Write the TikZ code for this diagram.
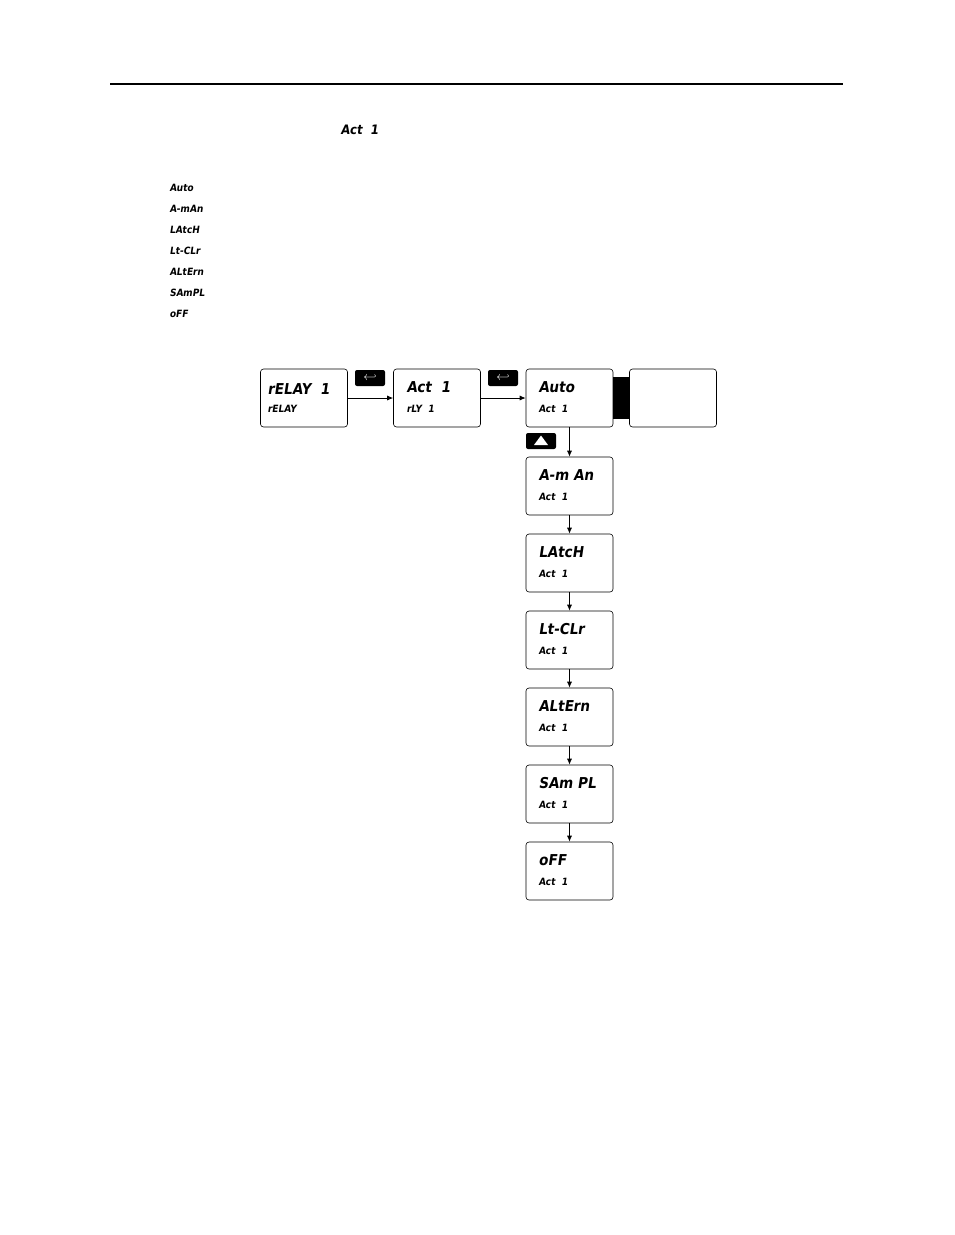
\documentclass[tikz,border=0pt]{standalone}
\usepackage{fontspec}
\setmainfont{Liberation Sans}
\newfontfamily\seg[FakeSlant=0.15]{DejaVu Sans Condensed Bold}
\usetikzlibrary{arrows.meta}
\begin{document}
\begin{tikzpicture}[x=1pt,y=-1pt,
  disp/.style={draw,rounded corners=3pt,minimum width=87pt,minimum height=58pt,line width=0.6pt,inner sep=0pt},
  big/.style={anchor=west,font=\seg\fontsize{15}{15}\selectfont},
  small/.style={anchor=west,font=\seg\fontsize{10}{10}\selectfont},
  key/.style={fill=black,rounded corners=2pt,minimum width=30pt,minimum height=16pt,inner sep=0pt,text=white},
  arr/.style={-{Latex[length=6pt,width=5pt]},line width=0.8pt}]
\useasboundingbox (0,0) rectangle (954,1235);
\draw[line width=1.5pt] (110,84) -- (843,84);
\node[anchor=west,font=\seg\fontsize{13}{13}\selectfont] (ttl) at (337,130) {Act\ \ 1};
\foreach \t [count=\i] in {Auto,A-mAn,LAtcH,Lt-CLr,ALtErn,SAmPL,oFF}{
  \pgfmathsetmacro{\yy}{167+21*\i}
  \node[anchor=west,font=\seg\fontsize{10}{10}\selectfont] (l\i) at (166,\yy) {\t};}
\node[disp] (r) at (304,398) {};
\node[big] at (264,389) {rELAY\ \ 1};
\node[small] at (264,409) {rELAY};
\node[disp] (a) at (437,398) {};
\node[big] at (403,387) {Act\ \ 1};
\node[small] at (403,409) {rLY\ \ 1};
\node[disp] (b0) at (569.5,398) {};
\node[big] at (535,387) {Auto};
\node[small] at (535,409) {Act\ \ 1};
\fill (613,377) rectangle (629,419);
\node[disp] (e) at (673,398) {};
\node[key] (k1) at (370,378) {\bfseries\large$\hookleftarrow$};
\node[key] (k2) at (503,378) {\bfseries\large$\hookleftarrow$};
\node[key] (k3) at (541,441) {};
\fill[white] (541,435.5) -- (548,445) -- (534,445) -- cycle;
\draw[arr] (r) -- (a);
\draw[arr] (a) -- (b0);
\foreach \t [count=\i] in {A-m An,LAtcH,Lt-CLr,ALtErn,SAm PL,oFF}{
  \pgfmathsetmacro{\yc}{486+77*(\i-1)}
  \pgfmathsetmacro{\yt}{\yc-11}
  \pgfmathsetmacro{\ys}{\yc+11}
  \node[disp] (b\i) at (569.5,\yc) {};
  \node[big] at (535,\yt) {\t};
  \node[small] at (535,\ys) {Act\ \ 1};
}
\foreach \i [evaluate=\i as \j using int(\i+1)] in {0,...,5}
  \draw[arr] (b\i) -- (b\j);
\end{tikzpicture}
\end{document}
